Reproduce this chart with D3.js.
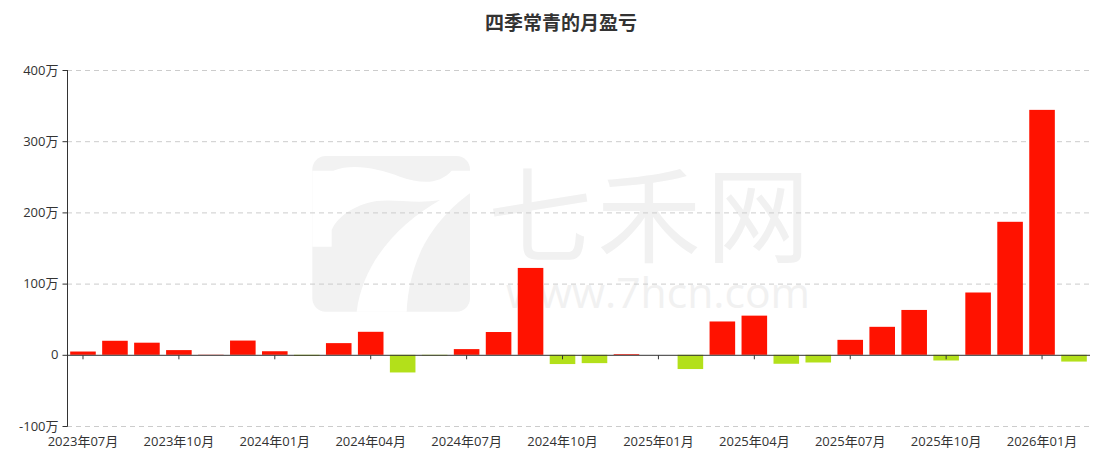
<!DOCTYPE html>
<meta charset="utf-8">
<style>
body { margin: 0; background: #fff; }
svg { display: block; font-family: "Open Sans", "Noto Sans CJK SC", sans-serif; }
.grid line { stroke: #ccc; stroke-dasharray: 5,4; }
.axis text { fill: #333; font-size: 13px; font-family: "Open Sans", "Noto Sans CJK SC", sans-serif; }
.axis path, .axis line { stroke: #333; }
</style>
<svg width="1111" height="464"></svg>
<script src="https://d3js.org/d3.v7.min.js"></script>
<script>
var title = "四季常青的月盈亏";
var months = ["2023年07月","2023年08月","2023年09月","2023年10月","2023年11月","2023年12月",
  "2024年01月","2024年02月","2024年03月","2024年04月","2024年05月","2024年06月",
  "2024年07月","2024年08月","2024年09月","2024年10月","2024年11月","2024年12月",
  "2025年01月","2025年02月","2025年03月","2025年04月","2025年05月","2025年06月",
  "2025年07月","2025年08月","2025年09月","2025年10月","2025年11月","2025年12月",
  "2026年01月","2026年02月"];
// monthly profit / loss, in 万
var profit = [4.6, 19.7, 17, 6.6, 0.3, 20, 5, -1.5, 16.4, 32.3, -24.8, -1,
  8, 32, 122, -13, -11.7, 1, 0, -20, 46.8, 55, -12.6, -10.8,
  21, 39.3, 63, -8, 87.5, 186.8, 344, -9.5];
var yTicks = [-100, 0, 100, 200, 300, 400];

var svg = d3.select("svg"),
    plotLeft = 67, plotRight = 1090, plotTop = 70, plotBottom = 426;

// watermark
var wm = svg.append("g").attr("class", "watermark");
var logo = wm.append("g").attr("transform", "translate(300,150) scale(0.3333)");
logo.append("rect").attr("x", 37).attr("y", 18).attr("width", 473).attr("height", 467)
    .attr("rx", 40).attr("fill", "#f2f2f2");
logo.append("path").attr("fill", "#fff")
    .attr("d", "M37,62 L100,62 C160,40 230,55 300,80 C370,105 420,100 455,62 L510,62 L510,130 " +
      "C430,190 330,290 320,485 L170,485 C190,330 300,220 420,150 C340,165 260,140 200,160 " +
      "C150,175 110,205 95,240 L95,290 L37,290 Z");
wm.append("text").attr("x", 488).attr("y", 255).attr("textLength", 322)
    .attr("font-family", "Noto Sans CJK SC")
    .attr("font-size", 104).attr("fill", "#f1f1f1").text("七禾网");
wm.append("text").attr("x", 506).attr("y", 308).attr("textLength", 304)
    .attr("lengthAdjust", "spacingAndGlyphs")
    .attr("font-size", 42).attr("fill", "#f1f1f1").text("www.7hcn.com");

var x = d3.scaleBand().domain(months).range([plotLeft, plotRight]).paddingInner(0.2).paddingOuter(0.1);
var y = d3.scaleLinear().domain([-100, 400]).range([plotBottom, plotTop]);

svg.append("text").attr("x", 561).attr("y", 30).attr("text-anchor", "middle")
    .attr("font-family", "Noto Sans CJK SC")
    .attr("font-size", 19).attr("font-weight", "bold").attr("fill", "#333").text(title);

svg.append("g").attr("class", "grid")
  .selectAll("line").data(yTicks.filter(function(d) { return d !== 0; }))
  .enter().append("line")
    .attr("x1", plotLeft).attr("x2", plotRight)
    .attr("y1", function(d) { return y(d) + 0.5; })
    .attr("y2", function(d) { return y(d) + 0.5; });

svg.append("g").selectAll("rect").data(profit).enter().append("rect")
    .attr("x", function(d, i) { return x(months[i]); })
    .attr("width", x.bandwidth())
    .attr("y", function(d) { return y(Math.max(0, d)); })
    .attr("height", function(d) { return Math.abs(y(d) - y(0)); })
    .attr("fill", function(d) { return d < 0 ? "#b3e01a" : "#ff1200"; });

var yAxis = svg.append("g").attr("class", "axis")
    .attr("transform", "translate(" + (plotLeft + 0.5) + ",0)")
    .call(d3.axisLeft(y).tickValues(yTicks).tickSize(5).tickPadding(4)
      .tickFormat(function(d) { return d === 0 ? "0" : d + "万"; }));
yAxis.select(".domain").attr("d", "M0," + plotTop + "V" + (plotBottom + 0.5));

var shown = months.filter(function(d, i) { return i % 3 === 0; });
var xAxis = svg.append("g").attr("class", "axis")
    .attr("transform", "translate(0," + (y(0) + 0.5) + ")")
    .call(d3.axisBottom(x).tickValues(shown).tickSize(4).tickSizeOuter(0).tickPadding(0));
xAxis.select(".domain").attr("d", "M" + plotLeft + ",0H" + plotRight);
xAxis.selectAll("text").attr("y", 0).attr("dy", null)
    .attr("transform", "translate(0," + (plotBottom - y(0) + 19) + ")");
</script>
